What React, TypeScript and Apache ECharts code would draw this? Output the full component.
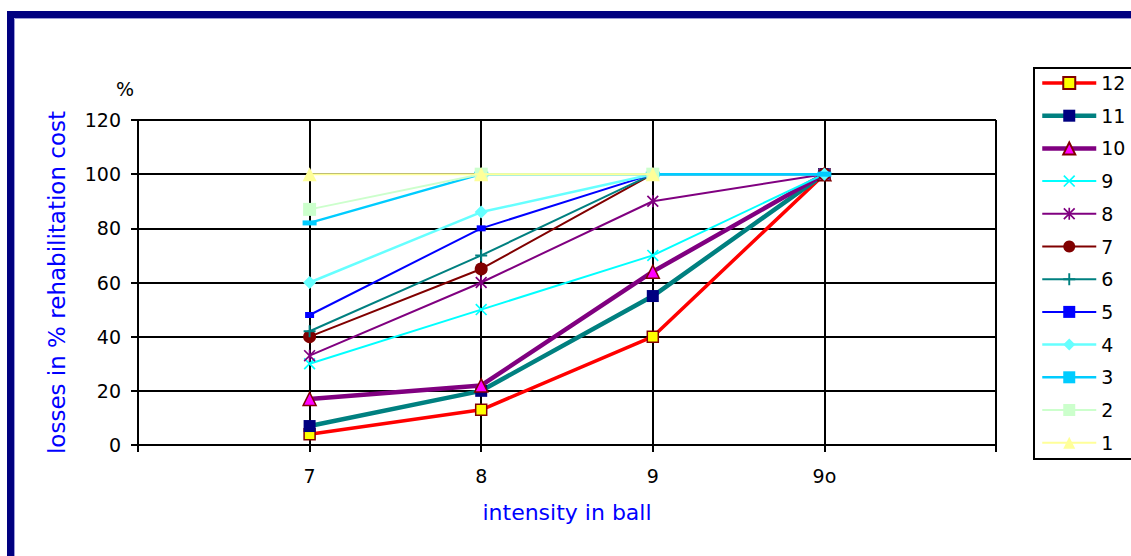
import React, { useEffect, useRef } from "react";
import * as echarts from "echarts";

// Intensity categories (blank slots pad the axis on both sides)
const categories = ["", "7", "8", "9", "9o", ""];
const seriesNames = ["12", "11", "10", "9", "8", "7", "6", "5", "4", "3", "2", "1"];

// Losses in % of rehabilitation cost for each building class
const s12 = [null, 4, 13, 40, 100, null];
const s11 = [null, 7, 20, 55, 100, null];
const s10 = [null, 17, 22, 64, 100, null];
const s9 = [null, 30, 50, 70, 100, null];
const s8 = [null, 33, 60, 90, 100, null];
const s7 = [null, 40, 65, 100, 100, null];
const s6 = [null, 42, 70, 100, 100, null];
const s5 = [null, 48, 80, 100, 100, null];
const s4 = [null, 60, 86, 100, 100, null];
const s3 = [null, 82, 100, 100, 100, null];
const s2 = [null, 87, 100, 100, null, null];
const s1 = [null, 100, 100, 100, null, null];

const yTicks = { min: 0, max: 120, interval: 20 };

const CROSS = "path://M0,1L1,0L10,9L9,10Z M9,0L10,1L1,10L0,9Z";
const PLUS = "path://M4.2,0h1.6v10h-1.6z M0,4.2h10v1.6h-10z";
const STAR = "path://M0,1L1,0L10,9L9,10Z M9,0L10,1L1,10L0,9Z M4.3,0h1.4v10h-1.4z";

type Style = {
  data: (number | null)[];
  line: string;
  width: number;
  symbol: string;
  size: number | number[];
  fill: string;
  border?: string;
  borderWidth?: number;
};

const styles: Style[] = [
  { data: s12, line: "#FF0000", width: 3.5, symbol: "rect", size: 11, fill: "#FFFF00", border: "#800000", borderWidth: 1.5 },
  { data: s11, line: "#008080", width: 4.5, symbol: "rect", size: 12, fill: "#000080" },
  { data: s10, line: "#800080", width: 4.5, symbol: "triangle", size: 13, fill: "#FF00FF", border: "#800000", borderWidth: 1.5 },
  { data: s9, line: "#00FFFF", width: 2, symbol: CROSS, size: 12, fill: "#00FFFF" },
  { data: s8, line: "#800080", width: 2, symbol: STAR, size: 12, fill: "#800080" },
  { data: s7, line: "#800000", width: 2, symbol: "circle", size: 13, fill: "#800000" },
  { data: s6, line: "#008080", width: 2, symbol: PLUS, size: 12, fill: "#008080" },
  { data: s5, line: "#0000FF", width: 2, symbol: "rect", size: [9, 6], fill: "#0000FF" },
  { data: s4, line: "#66FFFF", width: 2.5, symbol: "diamond", size: 13, fill: "#66FFFF" },
  { data: s3, line: "#00CCFF", width: 2.5, symbol: "rect", size: [14, 5], fill: "#00CCFF" },
  { data: s2, line: "#CCFFCC", width: 2, symbol: "rect", size: 13, fill: "#CCFFCC" },
  { data: s1, line: "#FFFF99", width: 2, symbol: "triangle", size: 14, fill: "#FFFF99" },
];

const FONT = "DejaVu Sans";

export default function App() {
  const ref = useRef<HTMLDivElement>(null);

  useEffect(() => {
    if (!ref.current) return;
    const chart = echarts.init(ref.current, null, { renderer: "svg" });
    chart.setOption({
      animation: false,
      backgroundColor: "#ffffff",
      textStyle: { fontFamily: FONT },
      grid: { left: 138, right: 135, top: 120, bottom: 111, containLabel: false },
      legend: {
        orient: "vertical",
        left: 1040,
        top: 73.5,
        padding: 0,
        itemWidth: 54,
        itemHeight: 15,
        itemGap: 13.7,
        lineStyle: { width: "inherit" },
        textStyle: { fontFamily: FONT, fontSize: 19, color: "#000" },
        data: seriesNames,
      },
      xAxis: {
        type: "category",
        data: categories,
        boundaryGap: false,
        name: "intensity in ball",
        nameLocation: "middle",
        nameGap: 56,
        nameTextStyle: { color: "#0000FF", fontSize: 22, fontFamily: FONT },
        axisLine: { lineStyle: { color: "#000", width: 2 } },
        axisTick: { show: true, length: 7, lineStyle: { color: "#000", width: 2 }, interval: 0 },
        axisLabel: { color: "#000", fontSize: 19, margin: 21, interval: 0 },
        splitLine: { show: true, interval: 0, lineStyle: { color: "#000", width: 2 } },
      },
      yAxis: {
        type: "value",
        ...yTicks,
        name: "losses in % rehabilitation cost",
        nameLocation: "middle",
        nameRotate: 90,
        nameGap: 70,
        nameTextStyle: { color: "#0000FF", fontSize: 23, fontFamily: FONT },
        axisLine: { show: true, lineStyle: { color: "#000", width: 2 } },
        axisTick: { show: true, length: 7, lineStyle: { color: "#000", width: 2 } },
        axisLabel: { color: "#000", fontSize: 19, margin: 17 },
        splitLine: { show: true, lineStyle: { color: "#000", width: 2 } },
      },
      series: styles.map((s, i) => ({
        name: seriesNames[i],
        type: "line",
        data: s.data,
        connectNulls: false,
        symbol: s.symbol,
        symbolSize: s.size,
        showSymbol: true,
        lineStyle: { color: s.line, width: s.width },
        itemStyle: {
          color: s.fill,
          borderColor: s.border ?? s.fill,
          borderWidth: s.borderWidth ?? 0,
          opacity: 1,
        },
        emphasis: { disabled: true },
        z: 3 + i * 0.01,
      })),
      graphic: [
        // outer frame
        {
          type: "rect",
          shape: { x: 10.5, y: 14.5, width: 1300, height: 700 },
          style: { fill: "none", stroke: "#000080", lineWidth: 7 },
          silent: true,
        },
        {
          type: "rect",
          shape: { x: 14.5, y: 18.5, width: 1300, height: 700 },
          style: { fill: "none", stroke: "#9a9ad8", lineWidth: 1 },
          silent: true,
        },
        // legend box
        {
          type: "rect",
          shape: { x: 1034, y: 68, width: 120, height: 391 },
          style: { fill: "none", stroke: "#000", lineWidth: 2 },
          silent: true,
        },
        {
          type: "text",
          left: 116,
          top: 79,
          style: { text: "%", fontSize: 19, fontFamily: FONT, fill: "#000" },
          silent: true,
        },
      ],
    });
    return () => chart.dispose();
  }, []);

  return <div ref={ref} style={{ width: 1131, height: 556, position: "absolute", left: 0, top: 0 }} />;
}
